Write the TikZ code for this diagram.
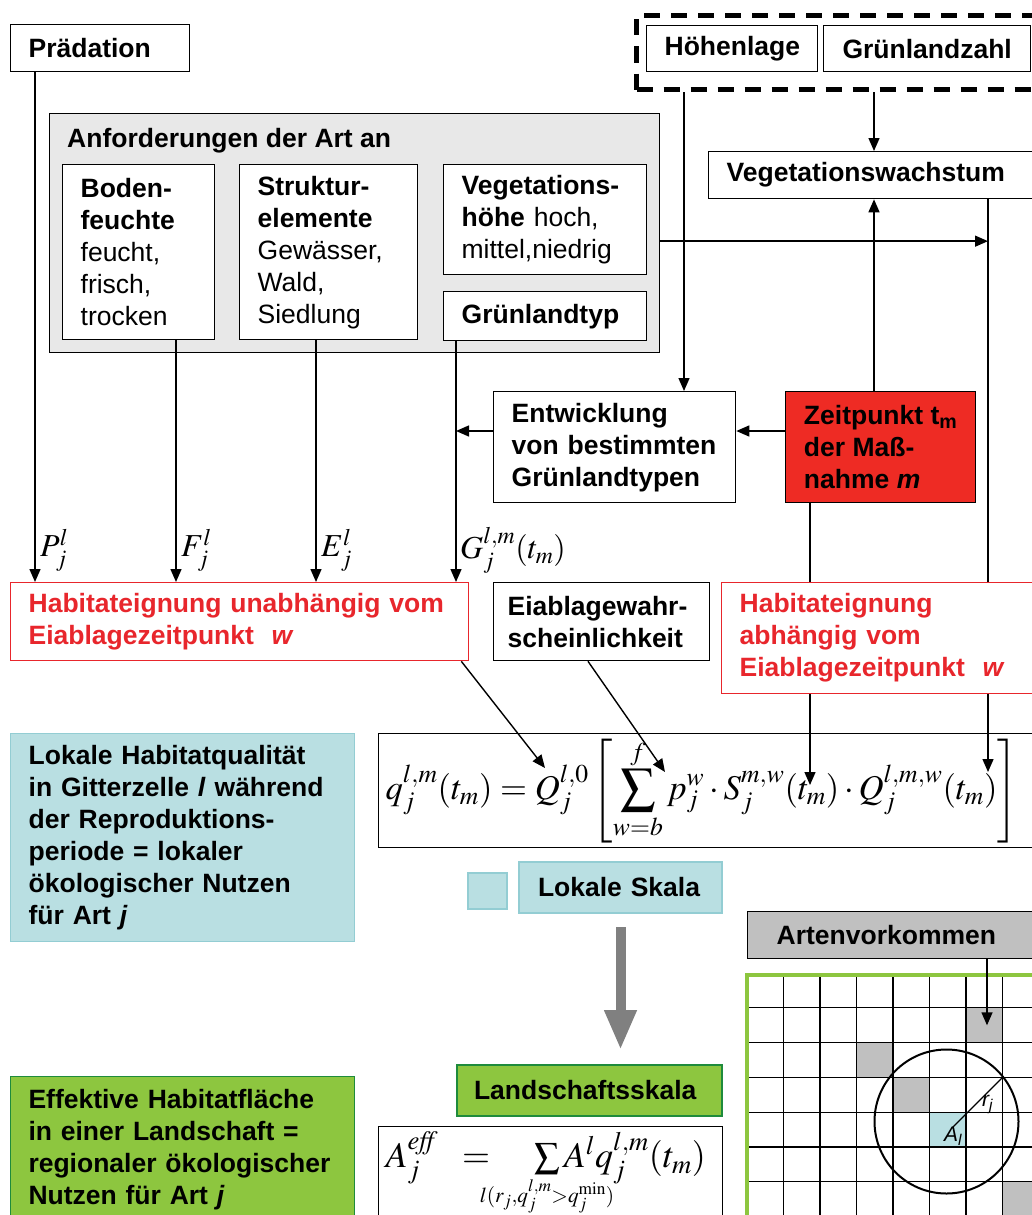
\documentclass[tikz,border=0pt]{standalone}
\usepackage{mathptmx}
\usepackage[no-math]{fontspec}
\setmainfont{Liberation Sans}
\usepackage{amsmath}
\usepackage{mathtools}
\usepackage{graphicx}
\usetikzlibrary{arrows.meta, calc, positioning}

\definecolor{boxred}{HTML}{EE2B24}
\definecolor{txtred}{HTML}{E8262C}
\definecolor{bggray}{HTML}{E8E8E8}
\definecolor{cellgray}{HTML}{C0C0C0}
\definecolor{lokcyan}{HTML}{B9DFE2}
\definecolor{lokline}{HTML}{93CDD3}
\definecolor{landgreen}{HTML}{8DC63F}
\definecolor{landline}{HTML}{1E8B3C}

\newcommand{\bxfont}{\fontsize{26.5}{32}\selectfont\bfseries}
\newcommand{\mathlab}{\fontsize{32}{38}\selectfont}

\begin{document}
\begin{tikzpicture}[x=1pt, y=-1pt,
    box/.style={draw, line width=1.3pt, fill=white, anchor=north west, inner xsep=18pt,
        inner ysep=0pt, align=left, font=\bxfont},
    redbox/.style={box, draw=txtred, text=txtred},
    lab/.style={anchor=west, inner sep=0pt, font=\mathlab},
    line/.style={line width=1.4pt},
    arr/.style={line width=1.4pt, -{Triangle[length=13pt, width=11pt]}},
    bigarr/.style={line width=10pt, draw=gray, -{Triangle[length=40pt, width=30pt]}}]
    \useasboundingbox (0,0) rectangle (1032,1215);
    \clip (0,0) rectangle (1032,1215);

    \node [box, minimum width=179, minimum height=47, text width=143] (Npraed) at (10, 24) {Prädation};

    \node [draw, dashed, dash pattern=on 16pt off 11pt, line width=5pt, anchor=north west, inner sep=0pt,
        minimum width=420, minimum height=74] (Ngeo) at (634, 13) {};
    \node [box, align=center, minimum width=171, minimum height=46, text width=135] (Nhoehe) at (646, 25) {Höhenlage};
    \node [box, align=center, minimum width=207, minimum height=46, text width=171] (Ngrza) at (823, 25) {Grünlandzahl};
    \node [box, minimum width=340, minimum height=47, text width=304] (Nveg) at (708, 151) {Vegetationswachstum};

    \node [box, fill=bggray, minimum width=610, minimum height=239] (Nanf) at (49, 113) {};
    \node [anchor=base west, inner sep=0pt, font=\bxfont] (Nanft) at (67, 147) {Anforderungen der Art an};
    \node [box, minimum width=152, minimum height=175, text width=116] (Nboden) at (62, 164)
        {Boden-\\feuchte\\{\mdseries feucht,}\\{\mdseries frisch,}\\{\mdseries trocken}};
    \node [box, minimum width=178, minimum height=175, text width=142] (Nstrukt) at (239, 164)
        {Struktur-\\elemente\\{\mdseries Gewässer,}\\{\mdseries Wald,}\\{\mdseries Siedlung}};
    \node [box, minimum width=203, minimum height=110, text width=167] (Nveghoe) at (443, 164)
        {Vegetations-\\höhe {\mdseries hoch,}\\{\mdseries mittel,niedrig}};
    \node [box, minimum width=203, minimum height=49, text width=167] (Ngtyp) at (443, 291) {Grünlandtyp};

    \node [box, minimum width=242, minimum height=111, text width=206] (Nentw) at (493, 391)
        {Entwicklung\\von bestimmten\\Grünlandtypen};
    \node [box, fill=boxred, minimum width=190, minimum height=111] (Nzeit) at (785, 391)
        {Zeitpunkt t\textsubscript{m}\\der Maß-\\nahme \textit{m}};

    \node [redbox, minimum width=458, minimum height=78, text width=422] (Nunabh) at (10, 582)
        {Habitateignung unabhängig vom\\Eiablagezeitpunkt~~\textit{w}};
    \node [box, inner xsep=14pt, minimum width=216, minimum height=78, text width=188] (Neiab) at (493, 582)
        {Eiablagewahr-\\scheinlichkeit};
    \node [redbox, minimum width=340, minimum height=111, text width=304] (Nabh) at (721, 582)
        {Habitateignung\\abhängig vom\\Eiablagezeitpunkt~~\textit{w}};

    \node [lab] (LP) at (40, 550) {$P_j^l$};
    \node [lab] (LF) at (181, 550) {$F_j^l$};
    \node [lab] (LE) at (321, 550) {$E_j^l$};
    \node [lab] (LG) at (460, 550) {$G_j^{l,m}(t_m)$};

    \node [box, draw=lokline, fill=lokcyan, minimum width=344, minimum height=208, text width=308] (Nlok) at (10, 733)
        {Lokale Habitatqualität\\in Gitterzelle \textit{l} während\\der Reproduktions-\\periode = lokaler\\ökologischer Nutzen\\für Art \textit{j}};
    \node [box, inner xsep=7pt, minimum width=700, minimum height=114, text width=686] (Nqform) at (378, 733)
        {\resizebox{632pt}{!}{$\displaystyle q_j^{l,m}(t_m)=Q_j^{l,0}\left[\sum_{w=b}^{f}p_j^w\cdot S_j^{m,w}(t_m)\cdot Q_j^{l,m,w}(t_m)\right]$}};

    \node [box, draw=lokline, fill=lokcyan, line width=2pt, minimum width=39, minimum height=36, inner sep=0pt] (Nswatch) at (467, 872) {};
    \node [box, draw=lokline, fill=lokcyan, line width=2pt, inner xsep=19pt, minimum width=203, minimum height=51, text width=165] (NlokS) at (518, 861) {Lokale Skala};
    \node [box, draw=landline, fill=landgreen, line width=2pt, inner xsep=17pt, minimum width=265, minimum height=51, text width=231] (NlandS) at (456, 1064) {Landschaftsskala};

    \node [box, draw=landline, fill=landgreen, line width=1pt, minimum width=344, minimum height=146, text width=308] (Neff) at (10, 1076)
        {Effektive Habitatfläche\\in einer Landschaft =\\regionaler ökologischer\\Nutzen für Art \textit{j}};
    \node [box, inner xsep=7pt, minimum width=344, minimum height=104, text width=330, text height=34pt, text depth=56pt] (Naform) at (378, 1126)
        {\mbox{\fontsize{36}{42}\selectfont$A_j^{\mathit{eff}}\;\;=\hspace{36pt}\sum\limits_{\mathclap{\scalebox{0.8}{$\scriptstyle l(r_j,q_j^{l,m}>q_j^{\min})$}}}A^l q_j^{l,m}(t_m)$}};

    \node [box, fill=cellgray, inner xsep=29pt, minimum width=300, minimum height=47, text width=242] (Nart) at (747, 911) {Artenvorkommen};

    \foreach \c/\r/\f in {6/1/cellgray, 3/2/cellgray, 4/3/cellgray, 5/4/lokcyan, 7/6/cellgray}
        \fill [\f] (747+\c*36.5, 973+\r*34.8) rectangle ++(36.5, 34.8);
    \foreach \i in {1,...,8}
        \draw [line width=1.3pt] (747+\i*36.5, 973) -- (747+\i*36.5, 1240);
    \foreach \j in {1,...,7}
        \draw [line width=1.3pt] (747, 973+\j*34.8) -- (1060, 973+\j*34.8);
    \draw [landgreen, line width=4pt] (747, 975) rectangle (1070, 1250);
    \draw [line width=2pt] (946.5, 1121.5) circle [radius=72pt];
    \draw [line width=1.3pt] (952, 1128) -- (1002.5, 1077.4);
    \node [anchor=west, inner sep=0pt, font=\fontsize{21}{24}\selectfont\itshape] (Lr) at (982, 1104) {r\textsubscript{j}};
    \node [anchor=west, inner sep=0pt, font=\fontsize{21}{24}\selectfont\itshape] (La) at (944, 1136) {A\textsubscript{l}};

    \draw [arr] ($(Npraed.south west)+(25,0)$) coordinate (Px) -- (Px |- Nunabh.north);
    \draw [arr] ($(Nboden.south west)+(114,0)$) coordinate (Fx) -- (Fx |- Nunabh.north);
    \draw [arr] ($(Nstrukt.south west)+(77,0)$) coordinate (Ex) -- (Ex |- Nunabh.north);
    \draw [arr] ($(Ngtyp.south west)+(13,0)$) coordinate (Gx) -- (Gx |- Nunabh.north);
    \coordinate (Hx) at ($(Nhoehe.south west)+(38,0)$);
    \coordinate (Vx) at ($(Ngrza.south west)+(51,0)$);
    \coordinate (Rx) at ($(Nveg.south west)+(280,0)$);
    \coordinate (Zx) at ($(Nzeit.south west)+(25,0)$);
    \draw [arr] (Hx |- Ngeo.south) -- (Hx |- Nentw.north);
    \draw [arr] (Vx |- Ngeo.south) -- (Vx |- Nveg.north);
    \draw [arr] (Vx |- Nzeit.north) -- (Vx |- Nveg.south);
    \draw [line] (Rx |- Nveg.south) -- (Rx |- Nabh.north);
    \draw [arr] ($(Nanf.east)+(0,8)$) coordinate (Hz) -- (Hz -| Rx);
    \draw [line] (Zx |- Nzeit.south) -- (Zx |- Nabh.north);
    \draw [arr] ($(Nzeit.north west)+(0,40)$) coordinate (Zy) -- (Zy -| Nentw.east);
    \draw [arr] ($(Nentw.north west)+(0,40)$) coordinate (Ey) -- (Ey -| Gx);
    \draw [arr] (Zx |- Nabh.south) -- ($(Zx |- Nqform.north)+(0,52)$);
    \draw [arr] (Rx |- Nabh.south) -- ($(Rx |- Nqform.north)+(0,39)$);
    \draw [arr] ($(Nunabh.south east)+(-8,0)$) -- ($(Nqform.north west)+(167,35)$);
    \draw [arr] ($(Neiab.south west)+(95,0)$) -- ($(Nqform.north west)+(287,39)$);
    \draw [arr] ($(Nart.south west)+(240,0)$) coordinate (Ax) -- ($(Ax)+(0,66)$);
    \draw [bigarr] ($(NlokS.south)+(0,13)$) -- ($(NlokS.south |- NlandS.north)+(0,-14)$);
\end{tikzpicture}
\end{document}
